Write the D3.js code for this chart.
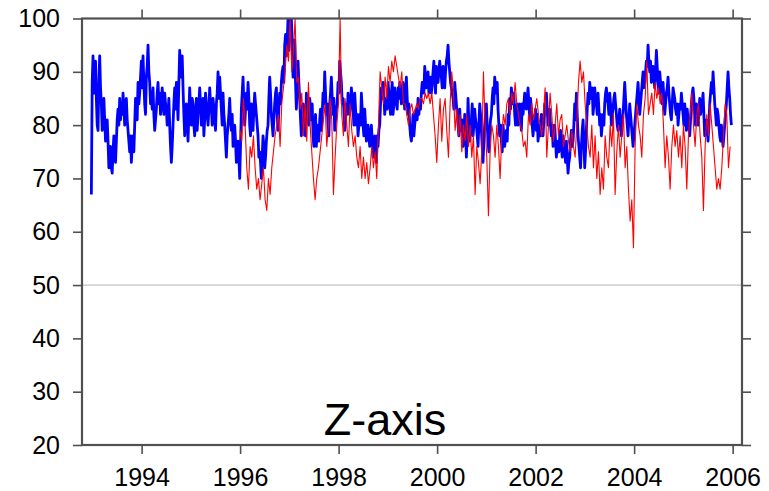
<!DOCTYPE html>
<html><head><meta charset="utf-8">
<script src="https://cdn.jsdelivr.net/npm/d3@7"></script>
<style>
html,body{margin:0;padding:0;background:#fff;}
svg text{font-family:"Liberation Sans",Arial,Helvetica,sans-serif;fill:#000;}
</style></head>
<body><svg id="chart" width="769" height="491"></svg>
<script>
// ---- data ----
const yearTicks = [1994, 1996, 1998, 2000, 2002, 2004, 2006];
const valueTicks = [20, 30, 40, 50, 60, 70, 80, 90, 100];
const titleText = "Z-axis";
const blueStartYear = 1992.98;     // first sample of blue series
const blueStepYears = 0.01692;     // ~6.2 days between blue samples
const redStartYear = 1996.0;       // first sample of red series
const redStepYears = 0.03384;      // ~12.4 days between red samples
const blueValues = [
67,88,93,86,90,92,85,80,79,88,93,87,84,79,82,85,81,77,79,81,77,72,74,76,72,71,75,78,76,73,77,81,83,80,85,81,84,82,86,83,80,84,85,81,79,77,75,78,73,76,78,75,80,85,83,81,88,84,86,89,92,87,93,88,84,82,89,91,95,90,88,84,86,83,87,82,79,81,83,86,88,84,86,82,84,87,85,82,86,84,83,80,82,85,80,76,73,76,80,84,87,83,88,85,81,88,94,89,91,93,87,82,78,81,
84,81,77,82,87,83,80,85,84,80,78,82,85,79,82,84,87,84,80,82,85,78,81,86,84,82,80,83,87,84,83,80,85,83,81,79,84,86,90,85,89,86,83,80,86,82,80,77,74,78,80,82,85,81,79,82,76,78,80,77,73,75,77,74,70,76,83,86,89,84,80,83,86,83,88,85,80,78,84,81,79,83,86,84,82,80,78,74,75,73,70,74,78,76,72,74,77,79,80,85,89,86,82,80,78,81,84,86,87,82,79,83,86,84,88,90,91,88,95,97,93,96,100,94,98,100,100,96,89,92,96,88,
83,87,92,88,85,81,78,82,84,83,80,78,86,84,82,80,85,83,81,84,78,76,80,82,76,80,79,77,81,83,79,82,86,84,90,86,82,84,80,78,84,86,89,85,82,85,79,81,83,84,88,86,92,90,88,84,85,83,79,81,84,82,86,84,82,84,87,85,83,80,86,83,80,82,78,80,82,80,86,83,80,78,83,80,77,79,80,78,76,78,80,77,74,76,78,75,73,78,76,79,80,84,87,85,88,86,82,84,85,83,88,86,84,82,86,88,82,84,87,85,84,83,87,85,88,86,84,86,88,85,83,86,
89,85,82,84,80,78,77,79,82,78,80,82,83,81,85,82,84,83,86,88,88,86,91,89,87,88,90,86,88,89,86,88,90,92,88,86,91,89,88,90,92,90,89,87,91,89,87,90,92,93,95,92,90,88,87,86,85,83,88,86,84,82,80,78,83,80,79,81,76,78,82,79,74,78,85,80,77,79,81,84,78,80,83,81,80,78,76,80,84,82,79,76,73,77,80,82,84,80,77,75,79,81,82,85,87,84,89,87,86,88,83,80,78,80,77,75,80,78,76,78,79,77,82,80,85,83,87,85,84,86,82,80,
82,84,80,82,84,81,79,84,82,84,86,84,83,85,87,84,81,85,83,80,78,80,81,83,79,82,77,79,80,78,82,80,78,81,84,82,86,83,80,82,83,80,78,80,76,78,80,77,74,76,77,75,78,79,76,74,78,76,75,73,77,74,71,73,74,77,79,76,77,80,84,81,86,82,78,76,74,72,76,79,81,77,72,75,79,83,86,84,88,86,85,87,82,84,87,85,84,82,86,83,80,82,78,80,82,80,84,86,87,85,84,82,86,84,80,82,83,85,86,84,82,80,79,81,83,80,78,80,82,85,88,85,
82,80,78,81,84,82,80,78,76,78,80,82,84,86,88,85,82,84,86,88,90,87,88,90,92,91,95,92,90,92,88,89,91,89,87,90,94,91,88,86,90,88,86,84,88,85,82,84,86,87,89,86,84,82,81,84,87,86,85,83,82,84,80,82,84,83,86,84,82,80,84,82,79,83,81,80,78,81,84,86,87,85,82,80,84,83,80,82,85,82,83,84,86,82,78,80,81,79,77,80,84,86,88,86,90,87,84,82,80,83,82,80,78,77,80,78,76,78,80,82,84,87,90,87,85,82,80
];
const redValues = [
79,77,85,80,72,68,76,74,78,72,68,70,66,69,72,66,64,70,67,72,75,78,80,82,76,84,87,90,95,92,100,90,94,
100,88,89,83,86,78,84,77,88,80,75,70,66,70,72,75,78,81,84,76,80,85,81,67,74,80,84,100,82,78,85,80,76,84,79,76,78,74,72,76,70,74,70,73,69,72,76,72,75,70,80,90,87,84,89,85,91,88,92,90,93,91,89,87,90,84,
84,82,80,83,84,82,83,84,83,85,85,84,86,85,86,84,86,82,78,73,80,85,77,83,85,79,74,84,90,86,79,83,78,82,75,80,77,82,76,80,74,78,67,76,73,69,75,90,80,74,63,75,80,78,74,80,76,70,78,82,80,84,85,82,86,84,
88,84,82,80,79,76,77,74,82,80,84,81,83,85,82,80,78,82,87,74,80,86,82,77,80,84,78,81,82,76,78,80,77,75,79,76,74,80,88,92,88,90,84,80,76,74,80,72,78,70,75,67,72,68,78,74,72,80,76,82,67,75,80,74,78,82,
72,76,68,62,66,57,76,84,80,78,74,82,85,92,82,84,86,82,88,85,87,84,86,80,72,78,74,68,76,80,76,79,74,78,72,80,76,68,78,82,86,80,76,82,84,78,74,64,76,82,78,84,80,76,72,68,70,68,72,78,84,82,72,76
];

// ---- layout ----
const plotLeft = 82, plotRight = 742, plotTop = 18.5, plotBottom = 445;
const svg = d3.select("#chart");

const x = d3.scaleLinear().domain([1992.79, 2006.19]).range([plotLeft, plotRight]);
const y = d3.scaleLinear().domain([20, 100]).range([plotBottom, plotTop]);

const blueSeries = blueValues.map((v, i) => ({t: blueStartYear + i * blueStepYears, v}));
const redSeries = redValues.map((v, i) => ({t: redStartYear + i * redStepYears, v}));

svg.append("defs").append("clipPath").attr("id", "clip")
  .append("rect").attr("x", plotLeft).attr("y", plotTop)
  .attr("width", plotRight - plotLeft).attr("height", plotBottom - plotTop);

// grid line at 50
svg.append("line")
  .attr("x1", plotLeft).attr("x2", plotRight)
  .attr("y1", y(50)).attr("y2", y(50))
  .attr("stroke", "#b4b4b4").attr("stroke-width", 1);

const lineGen = d3.line().x(d => x(d.t)).y(d => y(d.v));
const g = svg.append("g").attr("clip-path", "url(#clip)");
g.append("path").datum(blueSeries).attr("d", lineGen)
  .attr("fill", "none").attr("stroke", "#0000ff").attr("stroke-width", 2.8)
  .attr("stroke-linejoin", "round");
g.append("path").datum(redSeries).attr("d", lineGen)
  .attr("fill", "none").attr("stroke", "#ff0000").attr("stroke-width", 1.1)
  .attr("stroke-linejoin", "round");

// axes
const axisColor = "#505050";
function styleAxis(sel) {
  sel.select(".domain").remove();
  sel.selectAll(".tick line").attr("stroke", axisColor).attr("stroke-width", 1.6);
  sel.selectAll(".tick text").attr("font-size", 25).attr("fill", "#000")
    .attr("font-family", "'Liberation Sans', Arial, sans-serif");
}
svg.append("g").attr("transform", `translate(0,${plotBottom})`)
  .call(d3.axisBottom(x).tickValues(yearTicks).tickFormat(d3.format("d")).tickSize(9).tickPadding(14))
  .call(styleAxis);
svg.append("g").attr("transform", `translate(0,${plotTop})`)
  .call(d3.axisTop(x).tickValues(yearTicks).tickFormat("").tickSize(9))
  .call(styleAxis);
svg.append("g").attr("transform", `translate(${plotLeft},0)`)
  .call(d3.axisLeft(y).tickValues(valueTicks).tickFormat(d3.format("d")).tickSize(9).tickPadding(13))
  .call(styleAxis);
svg.append("g").attr("transform", `translate(${plotRight},0)`)
  .call(d3.axisRight(y).tickValues(valueTicks).tickFormat("").tickSize(9))
  .call(styleAxis);

// frame
svg.append("rect").attr("x", plotLeft).attr("y", plotTop)
  .attr("width", plotRight - plotLeft).attr("height", plotBottom - plotTop)
  .attr("fill", "none").attr("stroke", axisColor).attr("stroke-width", 2.2);

// title
svg.append("text").attr("x", 385).attr("y", 435)
  .attr("text-anchor", "middle").attr("font-size", 45)
  .text(titleText);
</script></body></html>
